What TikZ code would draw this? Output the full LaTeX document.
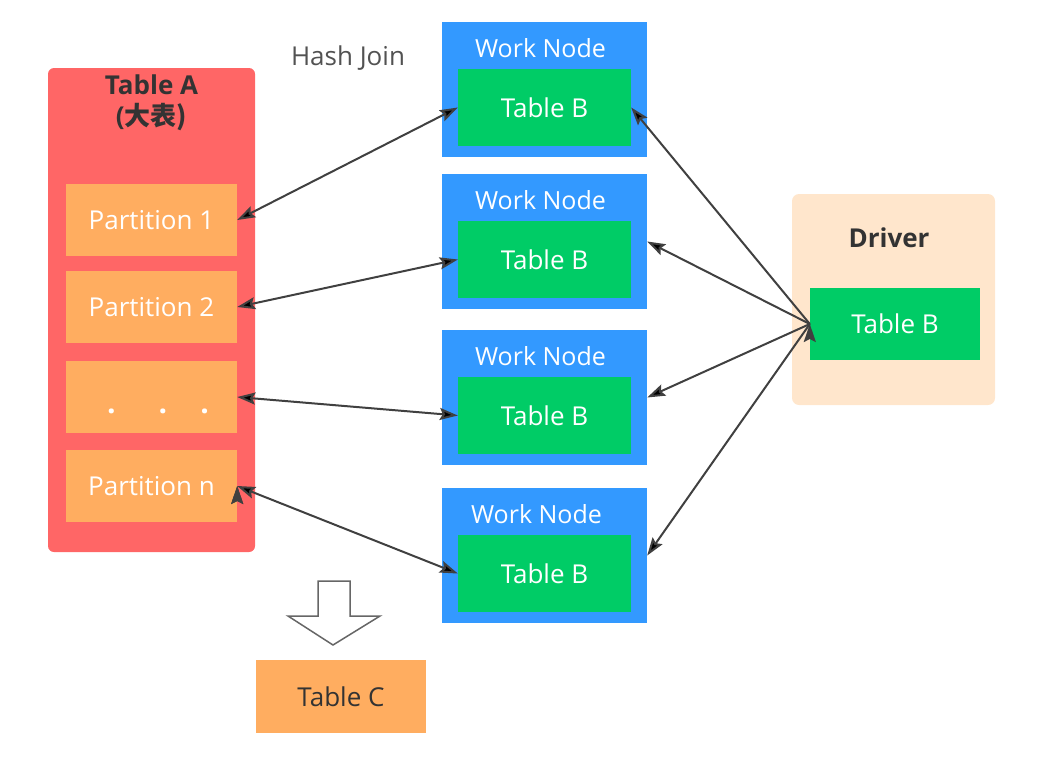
\documentclass[tikz,border=0pt]{standalone}
\usepackage{fontspec}
\setmainfont{Open Sans}
\newfontfamily\cjk{Noto Sans CJK SC}
\usetikzlibrary{calc}
\usetikzlibrary{arrows.meta}
\usetikzlibrary{positioning}
\definecolor{tabred}{HTML}{FF6666}
\definecolor{partorange}{HTML}{FFAD60}
\definecolor{workblue}{HTML}{3399FF}
\definecolor{tabgreen}{HTML}{00CC66}
\definecolor{driverpeach}{HTML}{FFE6CC}
\definecolor{darktext}{HTML}{333333}
\definecolor{linkgray}{HTML}{404040}
\tikzset{
    txt/.style={
           inner sep=0pt,
           font=\fontsize{26}{31}\selectfont,
           },
    title/.style={
           txt,
           text=darktext,
           font=\fontsize{26}{31}\selectfont\bfseries,
           },
    partbox/.style={
           rectangle,
           fill=partorange,
           minimum width=171pt,
           minimum height=72pt,
           inner sep=0pt,
           text=white,
           font=\fontsize{26}{31}\selectfont,
           },
    worknode/.style={
           rectangle,
           fill=workblue,
           minimum width=205pt,
           minimum height=135pt,
           },
    tableb/.style={
           rectangle,
           fill=tabgreen,
           minimum width=173pt,
           minimum height=77pt,
           inner sep=0pt,
           text=white,
           font=\fontsize{26}{31}\selectfont,
           },
    link/.style={
           draw=linkgray, line width=2pt,
           {Stealth[length=18pt,width=12pt,inset=3pt]}-{Stealth[length=18pt,width=12pt,inset=3pt]},
           },
    push/.style={
           draw=linkgray, line width=2pt,
           -{Stealth[length=18pt,width=12pt,inset=3pt]},
           },
}

\begin{document}
\begin{tikzpicture}[x=1pt,y=-1pt]
      \useasboundingbox (0,0) rectangle (1048,760);
      % big table
      \node[rectangle, rounded corners=6pt, fill=tabred, minimum width=207pt, minimum height=484pt] (ta) at (151.5,310) {};
      \node[title] (tatitle) at (151.5,85) {Table A};
      \node[title] (tasub) at (151.5,117) {(\cjk 大表)};
      \node[partbox] (p1) at (151.5,220) {Partition 1};
      \node[partbox] (p2) at (151.5,307) {Partition 2};
      \node[partbox] (p3) at (151.5,397) {};
      \node[txt, text=white, font=\fontsize{30}{34}\selectfont\bfseries, anchor=base] (p3dots) at (158,413) {.\hspace{43pt}.\hspace{33pt}.};
      \node[partbox] (p4) at (151.5,486) {Partition n};
      \node[txt, text=darktext!85] (hj) at (348,58) {Hash Join};
      % work nodes
      \foreach \i/\y/\dx in {1/89.5/-4,2/241.5/-4,3/397.5/-4,4/555.5/-8} {
        \node[worknode] (wn\i) at (544.5,\y) {};
        \node[tableb, above=11pt of wn\i.south] (tb\i) {Table B};
        \node[txt, text=white, font=\fontsize{25}{30}\selectfont] (wl\i) at ($(wn\i.north)+(\dx,26)$) {Work Node};
      }
      % driver
      \node[rectangle, rounded corners=7pt, fill=driverpeach, minimum width=203pt, minimum height=211pt] (drv) at (893.5,299.5) {};
      \node[title] (drvtitle) at (889,238) {Driver};
      \node[tableb, minimum width=170pt, minimum height=72pt] (dtb) at (895,324) {Table B};
      % result
      \node[partbox, text=darktext, minimum width=170pt, minimum height=73pt] (tc) at (341,696.5) {Table C};
      \draw[draw=linkgray!80, line width=1.5pt, fill=white, line join=miter]
        (318,581) -- (350,581) -- (350,616) -- (380,616) -- (333,645) -- (288,616) -- (318,616) -- cycle;
      \path[link]
      (p1.east) edge (tb1.west)
      (p2.east) edge (tb2.west)
      (p3.east) edge (tb3.west)
      (p4.east) edge (tb4.west);
      \path[push]
      (dtb.west) edge (tb1.east)
      (dtb.west) edge (wn2.east)
      (dtb.west) edge (wn3.east)
      (dtb.west) edge (wn4.east);
\end{tikzpicture}
\end{document}
